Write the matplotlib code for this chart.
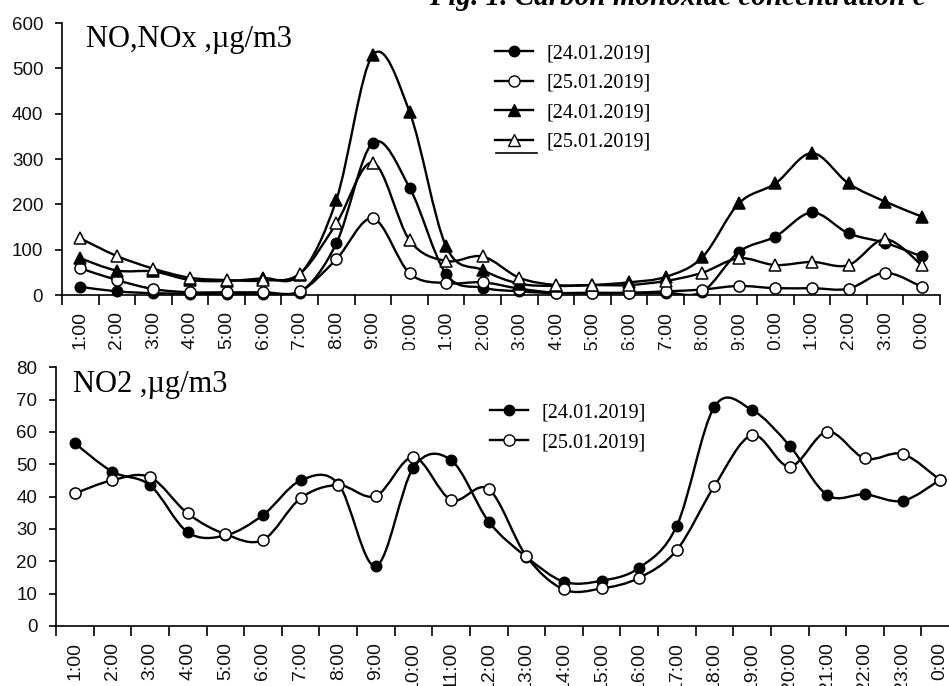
import matplotlib.pyplot as plt
import numpy as np
from matplotlib.path import Path
from matplotlib.patches import PathPatch
from matplotlib.lines import Line2D
from matplotlib.legend_handler import HandlerLine2D
from matplotlib.transforms import Bbox, TransformedBbox

# hour labels (24 categories)
hours = ["1:00", "2:00", "3:00", "4:00", "5:00", "6:00", "7:00", "8:00",
         "9:00", "10:00", "11:00", "12:00", "13:00", "14:00", "15:00", "16:00",
         "17:00", "18:00", "19:00", "20:00", "21:00", "22:00", "23:00", "0:00"]

# top panel: NO and NOx
no_24 = [18, 8, 4, 3, 3, 3, 5, 114, 336, 237, 46, 16, 8, 4, 4, 4, 5, 7, 95, 129, 182, 136, 115, 85]
no_25 = [59, 33, 13, 6, 6, 6, 8, 79, 169, 48, 26, 28, 14, 5, 5, 5, 8, 12, 20, 15, 15, 14, 49, 18]
nox_24 = [81, 54, 52, 33, 31, 37, 45, 210, 530, 404, 107, 55, 25, 20, 22, 28, 40, 83, 202, 246, 313, 246, 206, 173]
nox_25 = [125, 86, 58, 38, 33, 32, 47, 158, 292, 121, 75, 85, 38, 22, 22, 22, 31, 49, 81, 66, 73, 66, 123, 66]

# bottom panel: NO2
no2_24 = [56.5, 47.7, 43.5, 29, 28, 34.3, 45, 44, 18.5, 49, 51.3, 32.3, 21.4, 13.7, 14, 18, 31, 67.8, 66.8, 55.7, 40.5, 40.7, 38.7, 45.2]
no2_25 = [41, 45.1, 46, 34.8, 28.4, 26.6, 39.5, 43.6, 40.2, 52.2, 39, 42.3, 21.6, 11.3, 11.6, 14.9, 23.5, 43.3, 59, 49.3, 60.1, 51.8, 53.2, 45.1]

labels_top = ["[24.01.2019]", "[25.01.2019]", "[24.01.2019]", "[25.01.2019]"]
labels_bot = ["[24.01.2019]", "[25.01.2019]"]

W, H = 949, 686
LW = 1.7
serif = 'Liberation Serif'
sans = 'Liberation Sans'


def smooth_path(x, y):
    # excel style smoothed line (catmull-rom as cubic beziers)
    pts = np.column_stack([x, y])
    n = len(pts)
    verts = [pts[0]]
    codes = [Path.MOVETO]
    for i in range(n - 1):
        p0 = pts[i - 1] if i > 0 else pts[i]
        p1 = pts[i]
        p2 = pts[i + 1]
        p3 = pts[i + 2] if i + 2 < n else pts[i + 1]
        verts += [p1 + (p2 - p0) / 6.0, p2 - (p3 - p1) / 6.0, p2]
        codes += [Path.CURVE4] * 3
    return Path(verts, codes)


def draw_series(ax, vals, marker, face, ms, z):
    x = np.arange(len(vals)) + 0.5
    y = np.array(vals, dtype=float)
    ax.add_patch(PathPatch(smooth_path(x, y), fc='none', ec='black', lw=LW,
                           zorder=z, joinstyle='round', capstyle='round'))
    ax.plot(x, y, ls='none', marker=marker, mfc=face, mec='black', mew=1.1,
            ms=ms, zorder=z + 0.5, clip_on=False)


def style_axes(ax, ymax, ystep):
    ax.spines[['top', 'right']].set_visible(False)
    ax.spines[['left', 'bottom']].set_linewidth(1.2)
    ax.set_xlim(0, 24)
    ax.set_ylim(0, ymax)
    ax.set_yticks(np.arange(0, ymax + 1, ystep))
    ax.set_xticks(np.arange(25))
    ax.set_xticklabels([])
    ax.set_xticks(np.arange(24) + 0.5, minor=True)
    ax.set_xticklabels(hours, minor=True, rotation=90, fontsize=14,
                       family=sans, color='#111111')
    ax.tick_params(axis='x', which='major', direction='out', length=7, width=1.2)
    ax.tick_params(axis='x', which='minor', length=0, pad=11.5)
    ax.tick_params(axis='y', direction='out', length=5, width=1.2, pad=8.5,
                   labelsize=13.5, labelcolor='#111111')
    for t in ax.get_yticklabels():
        t.set_family(sans)


class UnderlinedHandler(HandlerLine2D):
    # last legend sample in the original has an extra rule under it
    def create_artists(self, legend, orig_handle, xdescent, ydescent,
                       width, height, fontsize, trans):
        arts = super().create_artists(legend, orig_handle, xdescent, ydescent,
                                      width, height, fontsize, trans)
        yc = height / 2 - ydescent - 9.5
        under = Line2D([-xdescent + 1, -xdescent + width + 3], [yc, yc],
                       color='black', lw=1.2, transform=trans)
        return list(arts) + [under]


fig = plt.figure(figsize=(W / 100, H / 100), dpi=100)
ax1 = fig.add_axes([62 / W, 1 - 295 / H, (940 - 62) / W, (295 - 23) / H])
ax2 = fig.add_axes([56 / W, 1 - 626 / H, (959 - 56) / W, (626 - 367.3) / H])

style_axes(ax1, 600, 100)
style_axes(ax2, 80, 10)

draw_series(ax1, no_24, 'o', 'black', 7.5, 2)
draw_series(ax1, no_25, 'o', 'white', 8, 3)
draw_series(ax1, nox_24, '^', 'black', 9, 4)
draw_series(ax1, nox_25, '^', 'white', 9, 5)

draw_series(ax2, no2_24, 'o', 'black', 7.5, 2)
draw_series(ax2, no2_25, 'o', 'white', 8, 3)

# top x labels are cut off where the lower panel starts
clip = TransformedBbox(Bbox([[0, 1 - 350 / H], [1, 1]]), fig.transFigure)
for t in ax1.get_xticklabels(minor=True):
    t.set_clip_on(True)
    t.set_clip_box(clip)

fig.text(86 / W, 1 - 47 / H, "NO,NOx ,\u00b5g/m3", family=serif, fontsize=22, va='baseline')
fig.text(73 / W, 1 - 392 / H, "NO2 ,\u00b5g/m3", family=serif, fontsize=22, va='baseline')

fig.text(429 / W, 1 - 5 / H, "Fig. 1. Carbon monoxide concentration e",
         family=serif, fontsize=21, weight='bold', style='italic', va='baseline')

h_top = [Line2D([], [], color='black', lw=LW, marker='o', mfc='black', mec='black', ms=7.5),
         Line2D([], [], color='black', lw=LW, marker='o', mfc='white', mec='black', ms=8),
         Line2D([], [], color='black', lw=LW, marker='^', mfc='black', mec='black', ms=9),
         Line2D([], [], color='black', lw=LW, marker='^', mfc='white', mec='black', ms=9)]
ax1.legend(h_top, labels_top, loc='upper left', bbox_to_anchor=(495 / W, 1 - 44 / H),
           bbox_transform=fig.transFigure, frameon=False, borderpad=0, borderaxespad=0,
           handlelength=1.9, handletextpad=0.65, labelspacing=0.52,
           handler_map={h_top[3]: UnderlinedHandler()},
           prop={'family': serif, 'size': 14.5})

h_bot = [Line2D([], [], color='black', lw=LW, marker='o', mfc='black', mec='black', ms=7.5),
         Line2D([], [], color='black', lw=LW, marker='o', mfc='white', mec='black', ms=8)]
ax2.legend(h_bot, labels_bot, loc='upper left', bbox_to_anchor=(490 / W, 1 - 403 / H),
           bbox_transform=fig.transFigure, frameon=False, borderpad=0, borderaxespad=0,
           handlelength=1.9, handletextpad=0.65, labelspacing=0.55,
           prop={'family': serif, 'size': 14.5})

fig.savefig("out.png", dpi=100)
